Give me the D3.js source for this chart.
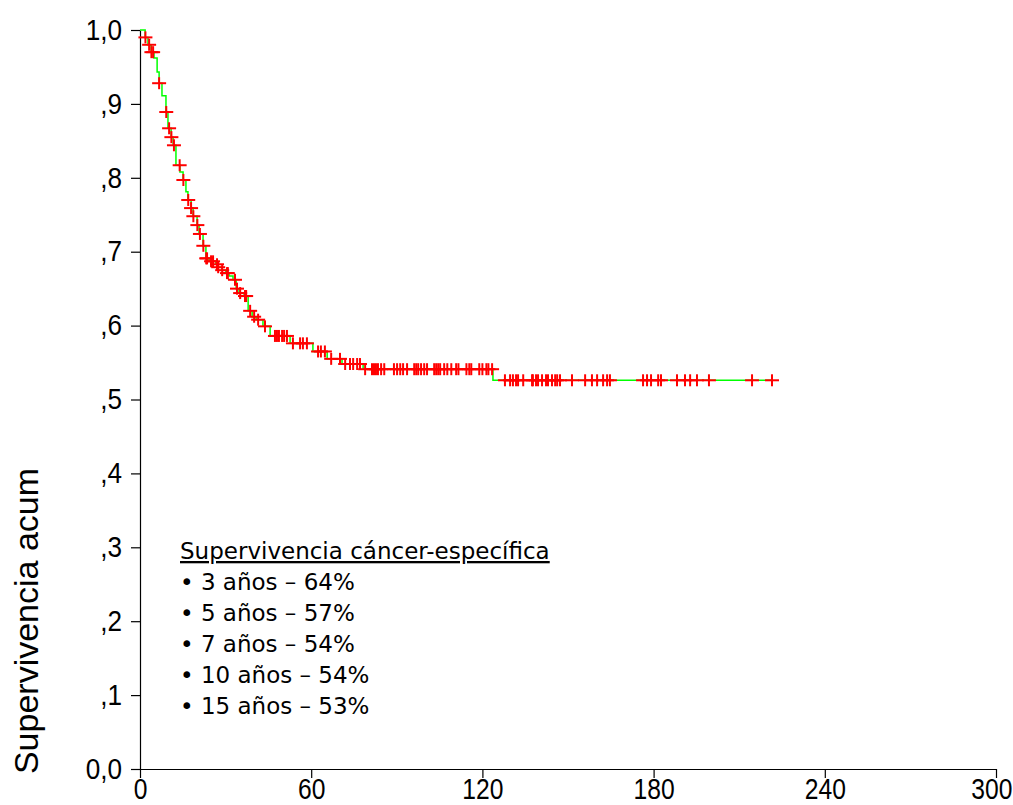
<!DOCTYPE html>
<html>
<head>
<meta charset="utf-8">
<script src="https://cdn.jsdelivr.net/npm/d3@7"></script>
<style>
  body { margin: 0; background: #fff; }
  .tick text { font-family: "Liberation Sans", Arial, sans-serif; font-size: 29px; fill: #000; }
  .legend { font-family: "DejaVu Sans", Tahoma, sans-serif; font-size: 23px; fill: #000; }
</style>
</head>
<body>
<svg id="kmSvg" width="1013" height="805"></svg>
<script>
const svg = d3.select("#kmSvg");

// time (months) of each event and survival after it
const eventTimes = [1.8, 2.8, 3.9, 4.9, 6.0, 6.7, 7.7, 9.1, 9.8, 10.9, 11.6, 12.6, 14.0, 15.1, 16.1, 16.8,
  17.9, 18.6, 20.0, 20.7, 22.1, 23.1, 24.2, 26.6, 27.3, 28.7, 30.1, 31.2, 32.6, 33.7, 34.7, 36.5,
  37.9, 39.3, 40.7, 43.1, 45.6, 52.6, 60.6, 65.6, 70.8, 78.2, 123.7];
const survival = [0.990, 0.980, 0.970, 0.962, 0.943, 0.928, 0.911, 0.889, 0.867, 0.855, 0.844, 0.817,
  0.808, 0.797, 0.781, 0.770, 0.759, 0.748, 0.736, 0.724, 0.708, 0.691, 0.687, 0.683, 0.679, 0.675,
  0.671, 0.667, 0.662, 0.650, 0.644, 0.640, 0.620, 0.612, 0.608, 0.599, 0.586, 0.576, 0.565, 0.555,
  0.548, 0.541, 0.526];

// censored cases (months)
const censorTimes = [1.9, 3.2, 4.0, 4.6, 6.7, 9.2, 10.2, 11.0, 11.9, 13.9, 15.2, 16.9, 17.9, 18.7, 20.1,
  21.0, 22.2, 23.2, 23.5, 24.9, 25.6, 27.0, 27.4, 28.8, 30.5, 30.8, 33.3, 34.0, 35.1, 36.8, 37.2,
  38.6, 40.0, 41.4, 43.8, 47.3, 48.0, 48.7, 49.8, 50.5, 51.5, 53.6, 56.1, 57.1, 58.5, 62.4, 63.4,
  64.8, 67.0, 70.1, 71.9, 73.6, 74.7, 76.1, 77.1, 78.9, 81.3, 82.0, 82.7, 83.4, 84.5, 85.6, 89.0,
  90.1, 91.2, 92.2, 93.6, 96.1, 96.8, 97.5, 98.5, 99.6, 100.6, 103.1, 103.8, 104.5, 105.2, 106.6,
  107.7, 109.1, 110.8, 111.6, 114.4, 115.4, 116.1, 118.9, 120.0, 121.4, 122.1, 123.4, 127.9, 129.7,
  130.7, 131.8, 132.5, 134.3, 137.4, 137.7, 138.8, 139.5, 140.9, 142.3, 143.0, 144.4, 145.5, 146.2,
  147.2, 151.4, 156.0, 158.4, 160.2, 162.3, 163.7, 164.7, 176.3, 177.7, 179.1, 181.6, 182.6, 188.2,
  191.0, 192.8, 195.2, 199.4, 214.5, 221.5];

const xTicks = [0, 60, 120, 180, 240, 300];
const yTicks = [0, 0.1, 0.2, 0.3, 0.4, 0.5, 0.6, 0.7, 0.8, 0.9, 1.0];
const yTickLabels = ["0,0", ",1", ",2", ",3", ",4", ",5", ",6", ",7", ",8", ",9", "1,0"];

const yTitle = "Supervivencia acum";
const legendTitle = "Supervivencia cáncer-específica";
const legendLines = ["• 3 años – 64%", "• 5 años – 57%", "• 7 años – 54%", "• 10 años – 54%", "• 15 años – 53%"];

const width = 1013;
const x = d3.scaleLinear().domain([0, 300]).range([140, 996]);
const y = d3.scaleLinear().domain([0, 1]).range([769, 30]);

const survivalAt = (t) => {
  const i = d3.bisectRight(eventTimes, t) - 1;
  return i < 0 ? 1 : survival[i];
};

const lastTime = d3.max(censorTimes);
const curve = [[0, 1], ...eventTimes.map((t, i) => [t, survival[i]]), [lastTime, survivalAt(lastTime)]];

// squeeze tick labels to look like a narrow face
const narrow = (sel, k) => {
  sel.selectAll(".tick text").each(function () {
    const w = this.getComputedTextLength();
    d3.select(this).attr("textLength", w * k).attr("lengthAdjust", "spacingAndGlyphs");
  });
};

const drawAxes = () => {
  const xAxis = svg
    .append("g")
    .attr("transform", `translate(0,${y(0)})`)
    .call(d3.axisBottom(x).tickValues(xTicks).tickSize(9).tickSizeOuter(0).tickPadding(0));

  const yAxis = svg
    .append("g")
    .attr("transform", `translate(${x(0)},0)`)
    .call(
      d3.axisLeft(y)
        .tickValues(yTicks)
        .tickFormat((d, i) => yTickLabels[i])
        .tickSize(9)
        .tickSizeOuter(0)
        .tickPadding(9)
    );

  [xAxis, yAxis].forEach((axis) => {
    axis.selectAll(".domain, line").attr("stroke", "#000").attr("stroke-width", 1.2);
  });
  narrow(xAxis, 0.85);
  narrow(yAxis, 0.9);

  // keep the last x label inside the page
  xAxis.selectAll(".tick text").each(function (d) {
    const half = +d3.select(this).attr("textLength") / 2;
    const over = x(d) + half - (width - 1);
    if (over > 0) d3.select(this).attr("x", -over);
  });

  svg
    .append("text")
    .attr("transform", `translate(38,621) rotate(-90)`)
    .attr("text-anchor", "middle")
    .style("font-family", "'Liberation Sans', Arial, sans-serif")
    .style("font-size", "34px")
    .text(yTitle);
};

const drawCurve = () => {
  const line = d3
    .line()
    .x((d) => x(d[0]))
    .y((d) => y(d[1]))
    .curve(d3.curveStepAfter);

  svg
    .append("path")
    .datum(curve)
    .attr("fill", "none")
    .attr("stroke", "#00ff00")
    .attr("stroke-width", 1.5)
    .attr("d", line);

  const marks = svg
    .append("g")
    .selectAll("g")
    .data(censorTimes)
    .enter()
    .append("g")
    .attr("transform", (t) => `translate(${x(t)},${y(survivalAt(t))})`)
    .attr("stroke", "#ff0000")
    .attr("stroke-width", 2);

  marks.append("line").attr("x1", -7).attr("x2", 7);
  marks.append("line").attr("y1", -6).attr("y2", 6);
};

const drawLegend = () => {
  const legend = svg.append("g").attr("class", "legend");

  legend
    .append("text")
    .attr("x", 180)
    .attr("y", 559)
    .attr("text-decoration", "underline")
    .text(legendTitle);

  legend
    .selectAll(".row")
    .data(legendLines)
    .enter()
    .append("text")
    .attr("x", 180)
    .attr("y", (d, i) => 590 + i * 31)
    .text((d) => d);
};

drawAxes();
drawCurve();
drawLegend();
</script>
</body>
</html>
